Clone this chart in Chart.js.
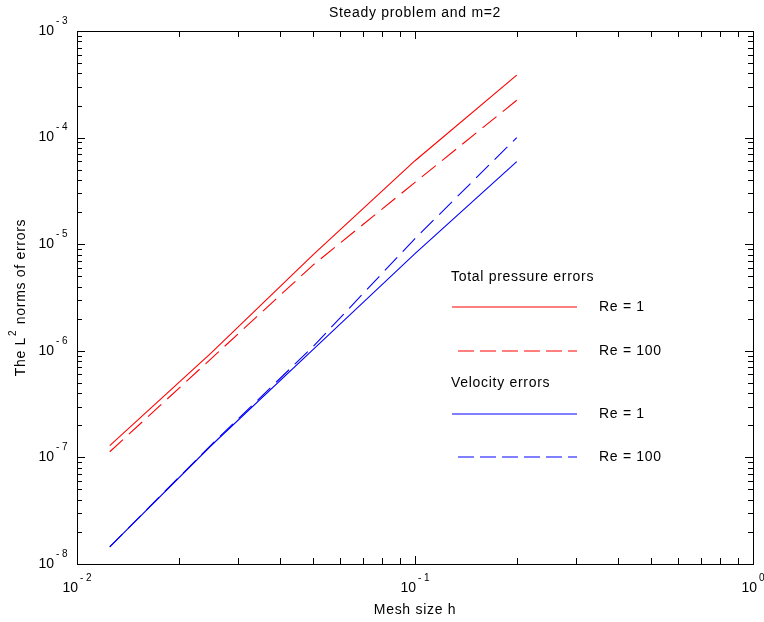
<!DOCTYPE html>
<html>
<head>
<meta charset="utf-8">
<script src="https://cdn.jsdelivr.net/npm/chart.js@4.4.0/dist/chart.umd.min.js"></script>
<style>
  html, body { margin: 0; padding: 0; background: #fff; }
  #wrap { width: 764px; height: 622px; }
</style>
</head>
<body>
<div id="wrap"><canvas id="errChart" width="764" height="622"></canvas></div>
<script>
// mesh sizes h
const meshSizes = [0.0125, 0.025, 0.05, 0.1, 0.2];

// L2 norms of errors
const pressureRe1   = [1.29e-7, 9.6e-7, 7.98e-6, 6.07e-5, 3.86e-4];
const pressureRe100 = [1.13e-7, 8.5e-7, 6.4e-6, 3.8e-5, 2.24e-4];
const velocityRe1   = [1.45e-8, 1.30e-7, 1.03e-6, 8.15e-6, 5.94e-5];
const velocityRe100 = [1.45e-8, 1.32e-7, 1.10e-6, 1.13e-5, 1.0e-4];

// decade exponents used for tick labels
const xDecades = [-2, -1, 0];
const yDecades = [-8, -7, -6, -5, -4, -3];

const RED = '#ff0000';
const BLUE = '#0000ff';
const FONT = '"Liberation Sans", Arial, sans-serif';
const TEXT_FONT = '14px ' + FONT;
const SPACING = '0.7px';

const toPoints = (ys) => meshSizes.map((h, i) => ({ x: h, y: ys[i] }));

// put a tick at every 1..9 x 10^k inside the decades
const decadeTicks = (decades) => {
  const ticks = [];
  decades.forEach((k, idx) => {
    ticks.push({ value: Math.pow(10, k), major: true });
    if (idx < decades.length - 1) {
      for (let j = 2; j <= 9; j++) ticks.push({ value: j * Math.pow(10, k), major: false });
    }
  });
  return ticks;
};

const drawPower = (ctx, x, y, exp, align) => {
  ctx.font = '14px ' + FONT;
  const baseW = ctx.measureText('10').width;
  ctx.font = '10px ' + FONT;
  const expStr = exp < 0 ? '- ' + Math.abs(exp) : String(exp);
  const expW = ctx.measureText(expStr).width;
  let left;
  if (align === 'right') left = x - baseW;
  else left = x - (baseW + 2 + expW) / 2;
  ctx.textAlign = 'left';
  ctx.textBaseline = 'middle';
  ctx.font = '14px ' + FONT;
  ctx.fillText('10', left, y);
  ctx.font = '10px ' + FONT;
  ctx.fillText(expStr, left + baseW + 2, y - 10);
};

const framePlugin = {
  id: 'frame',
  afterDraw(chart) {
    const { ctx, chartArea: a, scales } = chart;
    const xs = scales.x, ys = scales.y;
    ctx.save();
    ctx.strokeStyle = '#000';
    ctx.fillStyle = '#000';
    ctx.lineWidth = 1;

    // box
    ctx.strokeRect(a.left + 0.5, a.top + 0.5, a.right - a.left, a.bottom - a.top);

    // inward ticks on all four sides
    ctx.beginPath();
    xs.ticks.forEach(t => {
      const px = Math.round(xs.getPixelForValue(t.value)) + 0.5;
      const len = t.major ? 8 : 6;
      ctx.moveTo(px, a.bottom); ctx.lineTo(px, a.bottom - len);
      ctx.moveTo(px, a.top); ctx.lineTo(px, a.top + len);
    });
    ys.ticks.forEach(t => {
      const py = Math.round(ys.getPixelForValue(t.value)) + 0.5;
      const len = t.major ? 8 : 5;
      ctx.moveTo(a.left, py); ctx.lineTo(a.left + len, py);
      ctx.moveTo(a.right, py); ctx.lineTo(a.right - len, py);
    });
    ctx.stroke();

    // tick labels
    xDecades.forEach(k => {
      drawPower(ctx, xs.getPixelForValue(Math.pow(10, k)), a.bottom + 24, k, 'center');
    });
    yDecades.forEach(k => {
      drawPower(ctx, a.left - 23, ys.getPixelForValue(Math.pow(10, k)), k, 'right');
    });

    // title and axis titles
    ctx.letterSpacing = SPACING;
    ctx.font = TEXT_FONT;
    ctx.textAlign = 'center';
    ctx.textBaseline = 'middle';
    ctx.fillText('Steady problem and m=2', (a.left + a.right) / 2, 13);
    ctx.fillText('Mesh size h', (a.left + a.right) / 2, 610);

    ctx.save();
    ctx.translate(21, (a.top + a.bottom) / 2);
    ctx.rotate(-Math.PI / 2);
    const p1 = 'The L', p2 = '2', p3 = ' norms of errors';
    ctx.font = TEXT_FONT;
    const w1 = ctx.measureText(p1).width, w3 = ctx.measureText(p3).width;
    ctx.font = '10px ' + FONT;
    const w2 = ctx.measureText(p2).width;
    let sx = -(w1 + w2 + w3 + 2) / 2;
    ctx.textAlign = 'left';
    ctx.font = TEXT_FONT;
    ctx.fillText(p1, sx, 0);
    ctx.font = '10px ' + FONT;
    ctx.fillText(p2, sx + w1 + 1, -8);
    ctx.font = TEXT_FONT;
    ctx.fillText(p3, sx + w1 + w2 + 2, 0);
    ctx.restore();

    // legend
    const legendRows = [
      { text: 'Total pressure errors', y: 277 },
      { label: 'Re = 1', y: 307, color: RED, dash: [] },
      { label: 'Re = 100', y: 351, color: RED, dash: [16, 6] },
      { text: 'Velocity errors', y: 383 },
      { label: 'Re = 1', y: 414, color: BLUE, dash: [] },
      { label: 'Re = 100', y: 457, color: BLUE, dash: [16, 6] }
    ];
    ctx.textAlign = 'left';
    ctx.font = TEXT_FONT;
    legendRows.forEach(r => {
      if (r.text) {
        ctx.fillStyle = '#000';
        ctx.fillText(r.text, 451, r.y);
        return;
      }
      ctx.strokeStyle = r.color;
      ctx.lineWidth = 1.2;
      ctx.setLineDash(r.dash);
      ctx.beginPath();
      ctx.moveTo(r.dash.length ? 458 : 452, r.y);
      ctx.lineTo(577, r.y);
      ctx.stroke();
      ctx.setLineDash([]);
      ctx.fillStyle = '#000';
      ctx.fillText(r.label, 599, r.y);
    });
    ctx.restore();
  }
};

const hiddenAxis = (min, max, decades) => ({
  type: 'logarithmic',
  min: min,
  max: max,
  afterBuildTicks: (scale) => { scale.ticks = decadeTicks(decades); },
  ticks: { display: false },
  grid: { display: false, drawTicks: false },
  border: { display: false },
  title: { display: false }
});

new Chart(document.getElementById('errChart'), {
  type: 'line',
  data: {
    datasets: [
      { label: 'Total pressure errors, Re = 1', data: toPoints(pressureRe1), borderColor: RED },
      { label: 'Total pressure errors, Re = 100', data: toPoints(pressureRe100), borderColor: RED, borderDash: [18, 8] },
      { label: 'Velocity errors, Re = 1', data: toPoints(velocityRe1), borderColor: BLUE },
      { label: 'Velocity errors, Re = 100', data: toPoints(velocityRe100), borderColor: BLUE, borderDash: [18, 8] }
    ]
  },
  options: {
    responsive: false,
    animation: false,
    layout: { padding: { left: 77, top: 31, right: 11, bottom: 58 } },
    elements: {
      line: { borderWidth: 1.1, tension: 0, fill: false },
      point: { radius: 0 }
    },
    scales: {
      x: hiddenAxis(0.01, 1, xDecades),
      y: hiddenAxis(1e-8, 1e-3, yDecades)
    },
    plugins: {
      legend: { display: false },
      title: { display: false },
      tooltip: { enabled: false }
    }
  },
  plugins: [framePlugin]
});
</script>
</body>
</html>
